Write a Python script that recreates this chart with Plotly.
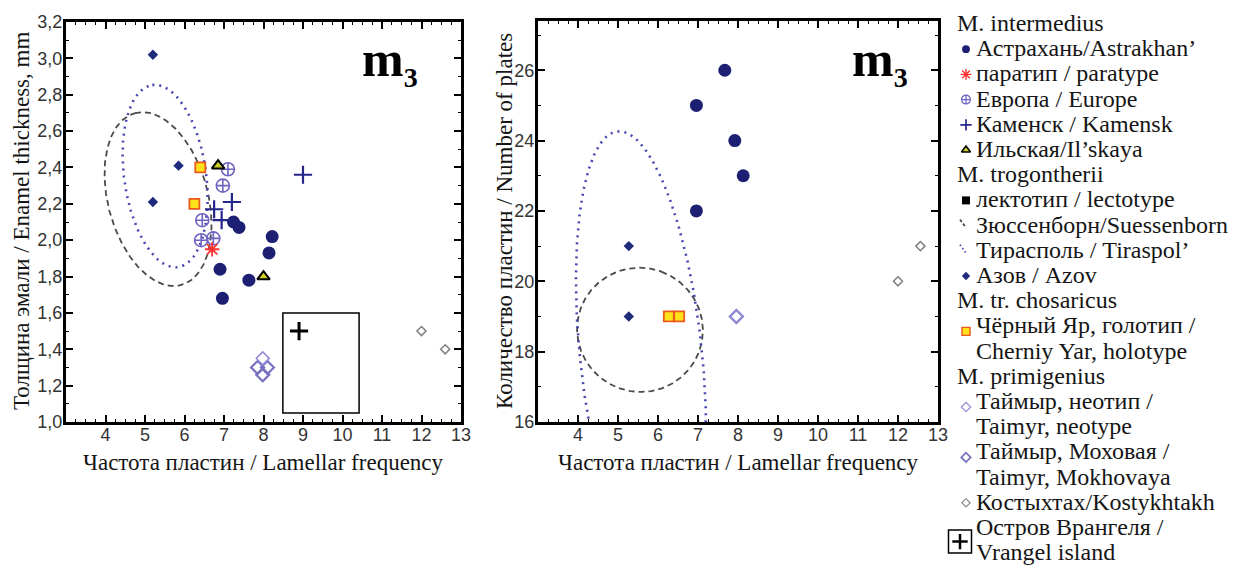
import numpy as np
import plotly.graph_objects as go

# window size and the page's default body offset (px)
W, H = 1252, 570
OFF = 8
WF, HF = W - OFF, H - OFF

# ---------------- data ----------------
# Left panel: lamellar frequency (x) vs enamel thickness, mm (y)
astr_lf = [7.24, 7.38, 8.22, 8.14, 6.90, 7.63, 6.96]
astr_et = [2.10, 2.07, 2.02, 1.93, 1.84, 1.78, 1.68]
para_lf = [6.70]
para_et = [1.95]
euro_lf = [7.10, 6.97, 6.45, 6.42, 6.73]
euro_et = [2.39, 2.30, 2.11, 2.00, 2.01]
kam_lf = [9.00, 7.20, 6.75, 6.94]
kam_et = [2.36, 2.21, 2.17, 2.11]
ils_lf = [6.85, 8.00]
ils_et = [2.41, 1.80]
azov_lf = [5.20, 5.85, 5.20]
azov_et = [3.02, 2.41, 2.21]
chy_lf = [6.40, 6.25]
chy_et = [2.40, 2.20]
tneo_lf = [7.98]
tneo_et = [1.35]
tmok_lf = [7.85, 8.10, 7.98]
tmok_et = [1.30, 1.30, 1.26]
kost_lf = [12.0, 12.6]
kost_et = [1.50, 1.40]
vran_lf = [8.9]
vran_et = [1.50]
vran_box = [8.49, 10.42, 1.05, 1.60]   # x0, x1, y0, y1

# Right panel: lamellar frequency (x) vs number of plates (y)
astr_lf2 = [7.67, 6.96, 7.92, 8.13, 6.96]
astr_np = [26, 25, 24, 23, 22]
azov_lf2 = [5.27, 5.27]
azov_np = [21, 19]
chy_lf2 = [6.27, 6.53]
chy_np = [19, 19]
tneo_lf2 = [7.96]
tneo_np = [19]
tmok_lf2 = [7.96]
tmok_np = [19]
kost_lf2 = [12.0, 12.56]
kost_np = [20, 21]

# confidence ellipses: centre x, centre y, semi-axes a, b (screen px), tilt (deg)
suess_left = [5.33, 2.226, 89, 50, 15]
tiras_left = [5.51, 2.353, 92, 41, 8]
suess_right = [5.55, 18.62, 62, 63, -20]
tiras_right = [5.575, 17.90, 225, 61, 6]

x_ticks = [4, 5, 6, 7, 8, 9, 10, 11, 12, 13]
et_ticks = [1.0, 1.2, 1.4, 1.6, 1.8, 2.0, 2.2, 2.4, 2.6, 2.8, 3.0, 3.2]
np_ticks = [16, 18, 20, 22, 24, 26]

x_range = [3, 13]
et_range = [1.0, 3.2]
np_range = [16, 27.4]

# ---------------- geometry (screen px) ----------------
L_X, L_Y = (66, 461), (22, 422)
R_X, R_Y = (538, 938), (21, 422)


def fx(px):
    return (px - OFF) / WF


def fy(py):
    return 1 - (py - OFF) / HF


def dom_x(p):
    return [fx(p[0]), fx(p[1])]


def dom_y(p):
    return [fy(p[1]), fy(p[0])]


def ellipse(params, pxr, pyr, xr, yr):
    cx, cy, a, b, ang = params
    ppx = (pxr[1] - pxr[0]) / (xr[1] - xr[0])
    ppy = (pyr[1] - pyr[0]) / (yr[1] - yr[0])
    t = np.linspace(0, 2 * np.pi, 361)
    th = np.radians(ang)
    dx = -a * np.cos(t) * np.sin(th) + b * np.sin(t) * np.cos(th)
    dy = a * np.cos(t) * np.cos(th) + b * np.sin(t) * np.sin(th)
    return cx + dx / ppx, cy + dy / ppy


NAVY = "#1d2072"
sty = {
    "astr": dict(symbol="circle", color=NAVY, size=13, lw=0),
    "para": dict(symbol="asterisk-open", color="#ff3030", size=12, lw=1.8),
    "euro": dict(symbol="circle-cross-open", color="#6f64c2", size=13, lw=1.6),
    "kam": dict(symbol="cross-thin-open", color="#25268a", size=13, lw=2.2),
    "ils": dict(symbol="triangle-up", color="#cfcf2a", line="#000000", size=11, lw=2),
    "lect": dict(symbol="square", color="#000000", size=8, lw=0),
    "azov": dict(symbol="diamond", color="#1e2a7a", size=8, lw=0),
    "chy": dict(symbol="square", color="#ffe21a", line="#ea5a1e", size=10, lw=1.8),
    "tneo": dict(symbol="diamond-open", color="#948cd6", size=10, lw=1.5),
    "tmok": dict(symbol="diamond-open", color="#7670be", size=10, lw=2.2),
    "kost": dict(symbol="diamond-open", color="#808080", size=7, lw=1.5),
    "vran": dict(symbol="cross-thin-open", color="#000000", size=13, lw=3),
}


def mk(key, scale=1.0, lwscale=1.0):
    s = sty[key]
    return dict(symbol=s["symbol"], color=s["color"], size=s["size"] * scale,
                line=dict(color=s.get("line", s["color"]), width=s["lw"] * lwscale))


DASH_COL, DOT_COL = "#4a4a4a", "#4646b0"
DASH_PAT, DOT_PAT = "6px,4px", "2px,5px"

fig = go.Figure()

# ellipses
for params, pxr, pyr, yr, xa, ya, col, pat, w in [
    (suess_left, L_X, L_Y, et_range, "x", "y", DASH_COL, DASH_PAT, 1.8),
    (tiras_left, L_X, L_Y, et_range, "x", "y", DOT_COL, DOT_PAT, 2.6),
    (suess_right, R_X, R_Y, np_range, "x2", "y2", DASH_COL, DASH_PAT, 1.8),
    (tiras_right, R_X, R_Y, np_range, "x2", "y2", DOT_COL, DOT_PAT, 2.6),
]:
    ex, ey = ellipse(params, pxr, pyr, x_range, yr)
    fig.add_trace(go.Scatter(x=ex, y=ey, mode="lines", xaxis=xa, yaxis=ya,
                             line=dict(color=col, width=w, dash=pat),
                             showlegend=False, hoverinfo="skip"))

left_series = [
    ("tmok", tmok_lf, tmok_et), ("tneo", tneo_lf, tneo_et),
    ("kost", kost_lf, kost_et), ("azov", azov_lf, azov_et),
    ("astr", astr_lf, astr_et), ("euro", euro_lf, euro_et),
    ("kam", kam_lf, kam_et), ("para", para_lf, para_et),
    ("ils", ils_lf, ils_et), ("chy", chy_lf, chy_et),
    ("vran", vran_lf, vran_et),
]
for key, xs, ys in left_series:
    fig.add_trace(go.Scatter(x=xs, y=ys, mode="markers", marker=mk(key),
                             xaxis="x", yaxis="y", showlegend=False))

right_series = [
    ("tmok", tmok_lf2, tmok_np), ("tneo", tneo_lf2, tneo_np),
    ("kost", kost_lf2, kost_np), ("azov", azov_lf2, azov_np),
    ("astr", astr_lf2, astr_np), ("chy", chy_lf2, chy_np),
]
for key, xs, ys in right_series:
    fig.add_trace(go.Scatter(x=xs, y=ys, mode="markers", marker=mk(key),
                             xaxis="x2", yaxis="y2", showlegend=False))

# ---------------- legend (drawn on a hidden full-figure pixel axis) ----------------
legend_rows = [
    ("head", ["M. intermedius"], None),
    ("item", ["Астрахань/Astrakhan’"], "astr"),
    ("item", ["паратип / paratype"], "para"),
    ("item", ["Европа / Europe"], "euro"),
    ("item", ["Каменск / Kamensk"], "kam"),
    ("item", ["Ильская/Il’skaya"], "ils"),
    ("head", ["M. trogontherii"], None),
    ("item", ["лектотип / lectotype"], "lect"),
    ("line", ["Зюссенборн/Suessenborn"], "dash"),
    ("line", ["Тирасполь / Tiraspol’"], "dot"),
    ("item", ["Азов / Azov"], "azov"),
    ("head", ["M. tr. chosaricus"], None),
    ("item2", ["Чёрный Яр, голотип /", "Cherniy Yar, holotype"], "chy"),
    ("head", ["M. primigenius"], None),
    ("item2", ["Таймыр, неотип /", "Taimyr, neotype"], "tneo"),
    ("item2", ["Таймыр, Моховая /", "Taimyr, Mokhovaya"], "tmok"),
    ("item", ["Костыхтах/Kostykhtakh"], "kost"),
    ("box2", ["Остров Врангеля /", "Vrangel island"], "vran"),
]
key_scale = {"astr": 0.6, "para": 0.75, "euro": 0.68, "kam": 0.62, "ils": 0.72,
             "lect": 1.0, "azov": 0.8, "chy": 0.8, "tneo": 0.72, "tmok": 0.72,
             "kost": 0.9}

LEG_TOP, LEG_STEP = 23, 25.2
HEAD_X, KEY_X, TEXT_X = 955, 966, 974
LEG_FONT = dict(family="Liberation Serif, Times New Roman, serif", size=24, color="#151515")


def key_trace(xs, ys, **kw):
    return go.Scatter(x=xs, y=ys, xaxis="x3", yaxis="y3", showlegend=False,
                      hoverinfo="skip", **kw)


annotations = []
line_i = 0
for kind, lines, key in legend_rows:
    yc = LEG_TOP + line_i * LEG_STEP
    tx = HEAD_X if kind == "head" else TEXT_X
    for j, txt in enumerate(lines):
        annotations.append(dict(x=tx, y=yc + j * LEG_STEP, xref="x3", yref="y3", text=txt,
                                showarrow=False, xanchor="left", yanchor="middle",
                                font=LEG_FONT))
    if kind == "item":
        fig.add_trace(key_trace([KEY_X], [yc + 1], mode="markers",
                                marker=mk(key, key_scale[key], 0.75)))
    elif kind == "item2":
        fig.add_trace(key_trace([KEY_X], [yc + 6], mode="markers",
                                marker=mk(key, key_scale[key], 0.8)))
    elif kind == "line":
        col, pat = (DASH_COL, "3px,2px") if key == "dash" else (DOT_COL, "1.5px,2.5px")
        fig.add_trace(key_trace([KEY_X - 6, KEY_X], [yc - 5, yc + 3], mode="lines",
                                line=dict(color=col, width=1.8, dash=pat)))
    elif kind == "box2":
        ym = yc + LEG_STEP / 2 + 2
        fig.add_trace(key_trace([960], [ym], mode="markers",
                                marker=dict(symbol="square-open", size=23, color="#000",
                                            line=dict(color="#000", width=1.5))))
        fig.add_trace(key_trace([960], [ym], mode="markers",
                                marker=dict(symbol="cross-thin-open", size=11, color="#000",
                                            line=dict(color="#000", width=2.5))))
    line_i += len(lines)

# ---------------- text: axis titles & panel labels ----------------
TITLE_FONT = dict(family="Liberation Serif, Times New Roman, serif", size=23, color="#151515")
xt = "Частота пластин / Lamellar frequency"
annotations += [
    dict(x=fx((L_X[0] + L_X[1]) / 2), y=fy(462), xref="paper", yref="paper", text=xt,
         showarrow=False, font=TITLE_FONT, xanchor="center", yanchor="middle"),
    dict(x=fx((R_X[0] + R_X[1]) / 2), y=fy(462), xref="paper", yref="paper", text=xt,
         showarrow=False, font=TITLE_FONT, xanchor="center", yanchor="middle"),
    dict(x=fx(22), y=fy(221), xref="paper", yref="paper",
         text="Толщина эмали / Enamel thickness, mm", textangle=-90,
         showarrow=False, font=TITLE_FONT, xanchor="center", yanchor="middle"),
    dict(x=fx(505), y=fy(221), xref="paper", yref="paper",
         text="Количество пластин / Number of plates", textangle=-90,
         showarrow=False, font=TITLE_FONT, xanchor="center", yanchor="middle"),
]
M3_FONT = dict(family="Liberation Serif, Times New Roman, serif", size=50, color="#000")
for cx in (390, 880):
    annotations.append(dict(x=fx(cx), y=fy(62), xref="paper", yref="paper",
                            text="<b>m</b><sub><span style='font-size:28px'><b>3</b></span></sub>",
                            showarrow=False, font=M3_FONT, xanchor="center", yanchor="middle"))

TICK_FONT = dict(family="Liberation Sans, Arial, sans-serif", size=18, color="#333")


def axis_common():
    return dict(showline=True, linewidth=3, linecolor="#000", mirror="ticks",
                ticks="inside", ticklen=7, tickwidth=1.5, tickcolor="#000",
                showgrid=False, zeroline=False, tickfont=TICK_FONT,
                automargin=False)


xa = axis_common()
xa.update(domain=dom_x(L_X), range=x_range, tickvals=x_ticks, anchor="y",
          ticklabelstandoff=-6,
          minor=dict(ticks="inside", dtick=0.25, ticklen=3, tickcolor="#000", tickwidth=1))
ya = axis_common()
ya.update(domain=dom_y(L_Y), range=et_range, tickvals=et_ticks, tickformat=".1f", anchor="x",
          ticklabelstandoff=-3,
          minor=dict(ticks="inside", dtick=0.1, ticklen=3, tickcolor="#000", tickwidth=1))
xa2 = axis_common()
xa2.update(domain=dom_x(R_X), range=x_range, tickvals=x_ticks, anchor="y2",
           ticklabelstandoff=-6,
           minor=dict(ticks="inside", dtick=0.25, ticklen=3, tickcolor="#000", tickwidth=1))
ya2 = axis_common()
ya2.update(domain=dom_y(R_Y), range=np_range, tickvals=np_ticks, anchor="x2",
           ticklabelstandoff=-3,
           minor=dict(ticks="inside", dtick=1, ticklen=3, tickcolor="#000", tickwidth=1))

fig.update_layout(
    width=WF, height=HF,
    margin=dict(l=0, r=0, t=0, b=0, pad=0, autoexpand=False),
    paper_bgcolor="#ffffff", plot_bgcolor="rgba(0,0,0,0)",
    separators=", ",
    showlegend=False,
    xaxis=xa, yaxis=ya, xaxis2=xa2, yaxis2=ya2,
    xaxis3=dict(domain=[0, 1], range=[OFF, OFF + WF], visible=False, anchor="y3",
                fixedrange=True, automargin=False),
    yaxis3=dict(domain=[0, 1], range=[OFF + HF, OFF], visible=False, anchor="x3",
                fixedrange=True, automargin=False),
    annotations=annotations,
    shapes=[dict(type="rect", xref="x", yref="y", x0=vran_box[0], x1=vran_box[1],
                 y0=vran_box[2], y1=vran_box[3], line=dict(color="#000", width=1.5))],
)

fig.write_html("out.html")
